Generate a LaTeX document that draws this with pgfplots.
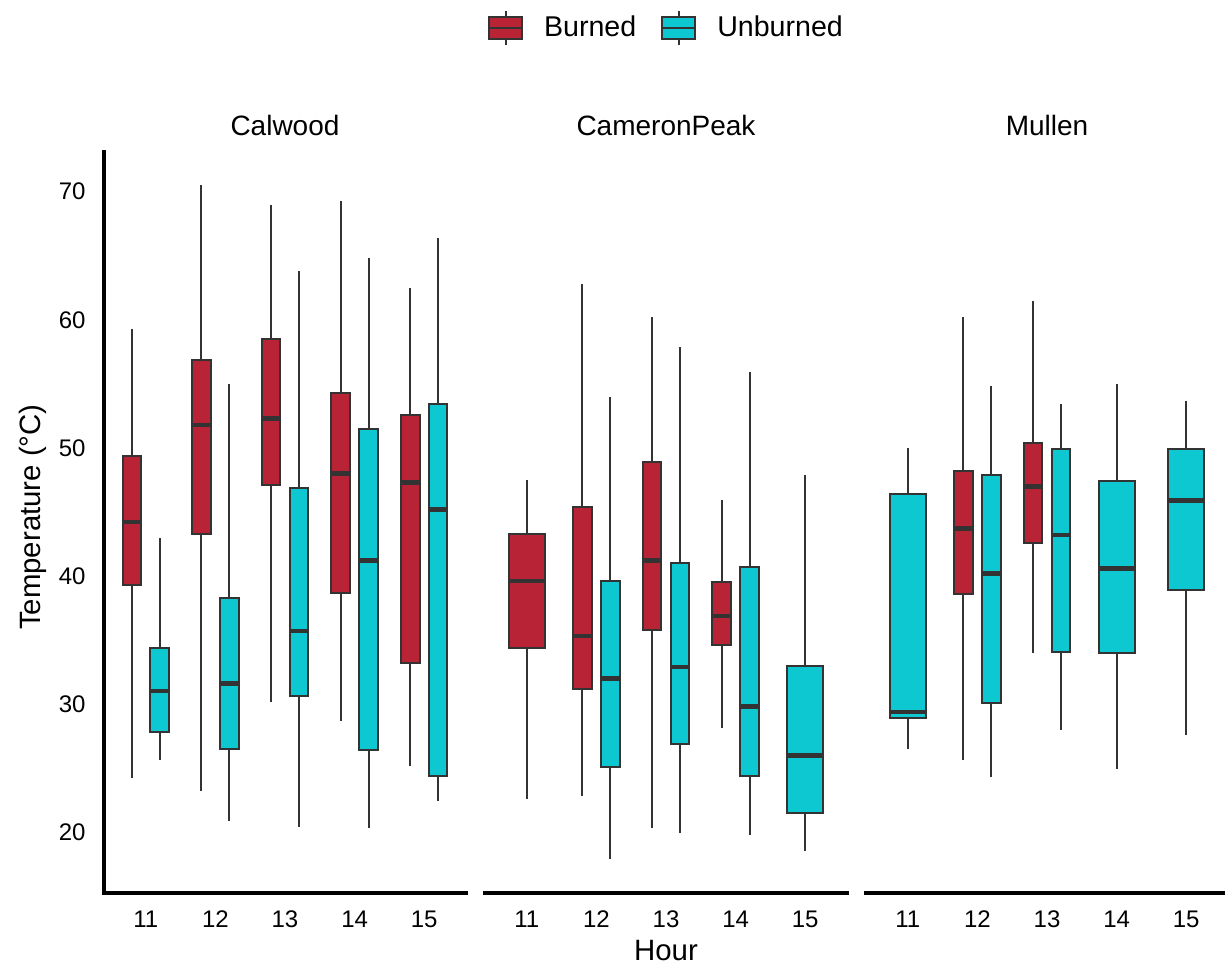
\documentclass[border=0pt]{standalone}
\usepackage{fontspec}
\setmainfont{Liberation Sans}
\usepackage{pgfplots}
\pgfplotsset{compat=1.18}
\usepgfplotslibrary{statistics}
\definecolor{burned}{RGB}{184,36,54}
\definecolor{unburned}{RGB}{13,200,209}
\definecolor{grey20}{HTML}{333333}
\newcommand{\bx}[8]{\addplot[draw=grey20, line width=1pt, fill=#8,
  boxplot prepared={draw position=#1, box extend=#2, lower whisker=#3,
  lower quartile=#4, median=#5, upper quartile=#6, upper whisker=#7,
  whisker extend=0}] coordinates {};}
\pgfplotsset{
  boxplot/every median/.style={line width=2.2pt},
  panel/.style={
    scale only axis, width=181pt, height=370.25pt,
    xmin=10.4, xmax=15.6, ymin=15.29, ymax=73.10,
    xtick={11,12,13,14,15}, ytick={20,30,40,50,60,70},
    major tick length=0pt,
    tick label style={font=\fontsize{12}{14}\selectfont},
    xticklabel style={anchor=north, inner sep=0pt, yshift=-8.8pt},
    yticklabel style={anchor=east, inner sep=0pt, xshift=-9pt},
    /pgf/number format/assume math mode=true,
    boxplot/draw direction=y,
    title style={at={(0.5,1.0067)}, anchor=base, inner sep=0pt, font=\fontsize{14}{16}\selectfont},
  },
  lines/.style={
    axis line style={-, line width=2pt, black, line cap=rect},
    every outer x axis line/.append style={-},
    every outer y axis line/.append style={-},
  }
}
\begin{document}
\begin{tikzpicture}
\useasboundingbox (-52pt,-39.25pt) rectangle (560.5pt,446.25pt);
% Calwood
\begin{axis}[panel, at={(0pt,0pt)}, anchor=south west,
  axis x line=bottom, axis y line=left, lines,
  title={Calwood},
  ylabel={Temperature (°C)},
  ylabel style={at={(axis description cs:-0.197,0.507)}, anchor=center, font=\fontsize{14.7}{17}\selectfont}]
\bx{10.8}{0.265}{24.2}{39.3}{44.2}{49.4}{59.3}{burned}
\bx{11.2}{0.265}{25.6}{27.8}{31.0}{34.4}{43.0}{unburned}
\bx{11.8}{0.265}{23.2}{43.3}{51.8}{56.9}{70.5}{burned}
\bx{12.2}{0.265}{20.9}{26.5}{31.6}{38.3}{55.0}{unburned}
\bx{12.8}{0.265}{30.2}{47.1}{52.3}{58.5}{69.0}{burned}
\bx{13.2}{0.265}{20.4}{30.6}{35.7}{46.9}{63.8}{unburned}
\bx{13.8}{0.265}{28.7}{38.7}{48.0}{54.3}{69.3}{burned}
\bx{14.2}{0.265}{20.3}{26.4}{41.2}{51.5}{64.8}{unburned}
\bx{14.8}{0.265}{25.2}{33.2}{47.3}{52.6}{62.5}{burned}
\bx{15.2}{0.265}{22.4}{24.4}{45.2}{53.4}{66.4}{unburned}
\end{axis}
% CameronPeak
\begin{axis}[panel, at={(190.5pt,0pt)}, anchor=south west,
  axis x line=bottom, axis y line=none, lines,
  title={CameronPeak},
  xlabel={Hour},
  xlabel style={at={(axis description cs:0.5,-0.0786)}, anchor=center, font=\fontsize{14.7}{17}\selectfont},
  legend style={at={(0.504,1.1675)}, anchor=center, draw=none, fill=none,
    legend columns=2, font=\fontsize{14.3}{16}\selectfont,
    /tikz/every odd column/.append style={column sep=8.5pt},
    /tikz/every even column/.append style={column sep=10.5pt}},
  legend cell align=left]
\addlegendimage{legend image code/.code={
  \draw[draw=grey20, fill=burned, line width=1pt] (0pt,-5.5pt) rectangle (16.5pt,5.5pt);
  \draw[draw=grey20, line width=1pt] (0pt,0pt) -- (16.5pt,0pt) (8.25pt,5.5pt) -- (8.25pt,8.5pt) (8.25pt,-5.5pt) -- (8.25pt,-8.5pt);}}
\addlegendentry{Burned}
\addlegendimage{legend image code/.code={
  \draw[draw=grey20, fill=unburned, line width=1pt] (0pt,-5.5pt) rectangle (16.5pt,5.5pt);
  \draw[draw=grey20, line width=1pt] (0pt,0pt) -- (16.5pt,0pt) (8.25pt,5.5pt) -- (8.25pt,8.5pt) (8.25pt,-5.5pt) -- (8.25pt,-8.5pt);}}
\addlegendentry{Unburned}
\bx{11.0}{0.52}{22.6}{34.4}{39.6}{43.3}{47.5}{burned}
\bx{11.8}{0.265}{22.8}{31.2}{35.3}{45.4}{62.8}{burned}
\bx{12.2}{0.265}{17.9}{25.1}{32.0}{39.6}{54.0}{unburned}
\bx{12.8}{0.265}{20.3}{35.8}{41.2}{48.9}{60.2}{burned}
\bx{13.2}{0.265}{19.9}{26.9}{32.9}{41.0}{57.9}{unburned}
\bx{13.8}{0.265}{28.1}{34.6}{36.9}{39.5}{45.9}{burned}
\bx{14.2}{0.265}{19.8}{24.4}{29.8}{40.7}{55.9}{unburned}
\bx{15.0}{0.52}{18.5}{21.5}{26.0}{33.0}{47.9}{unburned}
\end{axis}
% Mullen
\begin{axis}[panel, at={(381pt,0pt)}, anchor=south west,
  axis x line=bottom, axis y line=none, lines,
  title={Mullen}]
\bx{11.0}{0.52}{26.5}{28.9}{29.4}{46.4}{50.0}{unburned}
\bx{11.8}{0.265}{25.6}{38.6}{43.7}{48.2}{60.2}{burned}
\bx{12.2}{0.265}{24.3}{30.1}{40.2}{47.9}{54.8}{unburned}
\bx{12.8}{0.265}{34.0}{42.6}{47.0}{50.4}{61.5}{burned}
\bx{13.2}{0.265}{28.0}{34.1}{43.2}{49.9}{53.4}{unburned}
\bx{14.0}{0.52}{24.9}{34.0}{40.6}{47.4}{55.0}{unburned}
\bx{15.0}{0.52}{27.6}{38.9}{45.9}{49.9}{53.7}{unburned}
\end{axis}
\end{tikzpicture}
\end{document}
